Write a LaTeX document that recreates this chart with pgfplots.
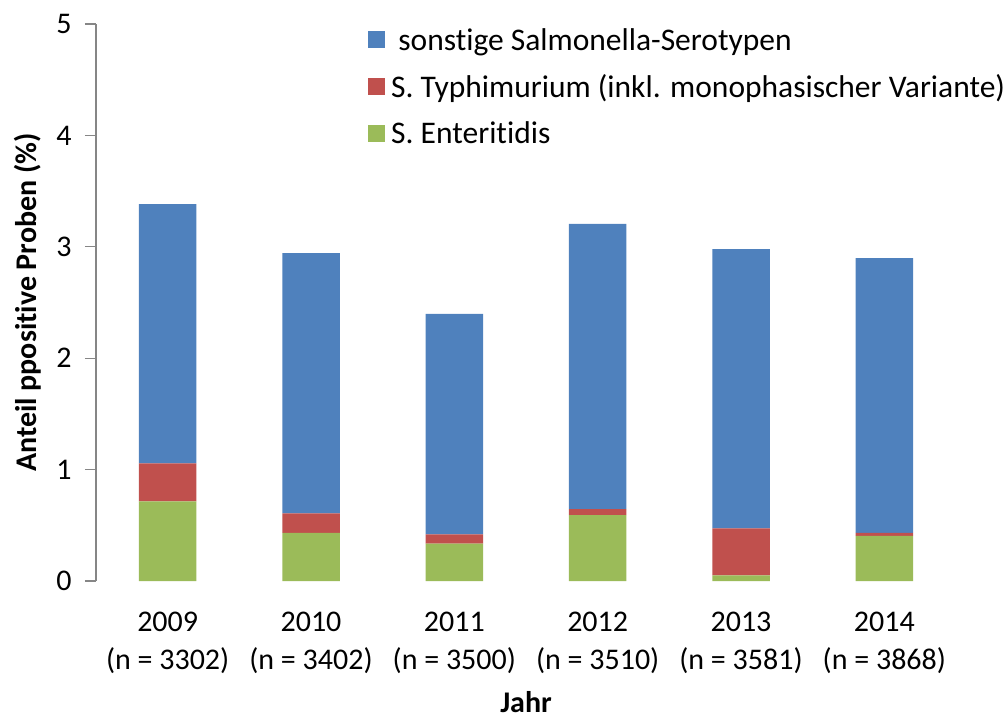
\documentclass[border=0pt]{standalone}
\usepackage{fontspec}
\setmainfont{Carlito}[Ligatures=NoCommon]
\usepackage{pgfplots}
\pgfplotsset{compat=1.18}
\definecolor{sonstblue}{HTML}{4F81BD}
\definecolor{typhired}{HTML}{C0504D}
\definecolor{enterigreen}{HTML}{9BBB59}
\definecolor{axisgray}{HTML}{868686}
\newcommand{\chartfont}{\fontsize{30bp}{38bp}\selectfont}

\begin{document}
\begin{tikzpicture}
\useasboundingbox (-96bp,-137bp) rectangle (911bp,581bp);
\begin{axis}[
  at={(0,0)}, anchor=south west,
  scale only axis,
  width=860bp, height=557bp,
  ybar stacked,
  bar width=57.5bp,
  xmin=-0.5, xmax=5.5,
  ymin=0, ymax=5,
  axis x line=bottom,
  axis y line=left,
  x axis line style={draw=none},
  y axis line style={axisgray, line width=1.3bp, -},
  xtick={0,1,2,3,4,5},
  xticklabels={{2009\\(n = 3302)},{2010\\(n = 3402)},{2011\\(n = 3500)},
               {2012\\(n = 3510)},{2013\\(n = 3581)},{2014\\(n = 3868)}},
  x tick style={draw=none},
  ytick={0,1,2,3,4,5},
  y tick style={axisgray, line width=1.3bp},
  tick align=outside,
  major tick length=11bp,
  tick label style={font=\chartfont},
  xticklabel style={align=center, anchor=north, yshift=-16.5bp},
  yticklabel style={anchor=east, xshift=-10bp},
  /pgf/number format/assume math mode=true,
  ylabel={Anteil ppositive Proben (\%)},
  ylabel style={font=\chartfont\bfseries, at={(axis description cs:-0.079,0.5)}, anchor=center},
  xlabel={Jahr},
  xlabel style={font=\chartfont\bfseries, at={(axis description cs:0.5,0)}, anchor=base, yshift=-131bp},
  legend style={font=\fontsize{31.5bp}{38bp}\selectfont, draw=none, fill=none,
                at={(axis description cs:0.3163,1.0)}, anchor=north west,
                row sep=19bp, inner xsep=0pt,
                /tikz/every odd column/.append style={column sep=4bp}},
  legend cell align=left,
  reverse legend,
  legend image code/.code={\fill[#1] (0bp,-8.5bp) rectangle (17bp,8.5bp);},
]
\addplot[fill=enterigreen, draw=none] coordinates
  {(0,0.715) (1,0.431) (2,0.335) (3,0.592) (4,0.051) (5,0.404)};
\addplot[fill=typhired, draw=none] coordinates
  {(0,0.342) (1,0.177) (2,0.084) (3,0.054) (4,0.422) (5,0.027)};
\addplot[fill=sonstblue, draw=none] coordinates
  {(0,2.327) (1,2.336) (2,1.978) (3,2.559) (4,2.507) (5,2.468)};
\legend{S. Enteritidis, S. Typhimurium (inkl. monophasischer Variante), \ sonstige Salmonella-Serotypen}
\end{axis}
\end{tikzpicture}
\end{document}
